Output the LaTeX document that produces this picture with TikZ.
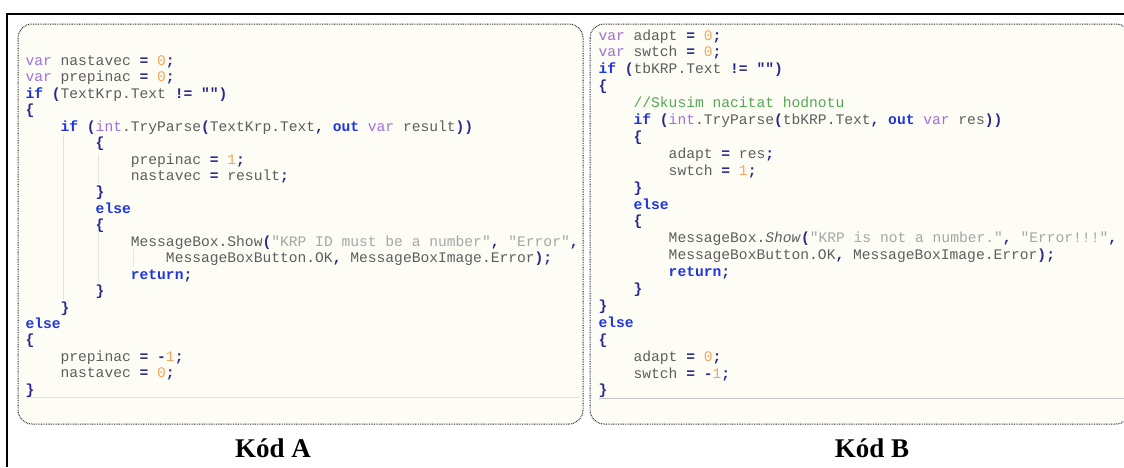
\documentclass[tikz,border=0pt]{standalone}
\usepackage{fontspec}
\setmainfont{Liberation Serif}
\setmonofont{Liberation Mono}
\usepackage{xcolor}
\definecolor{idgray}{HTML}{5E5E5E}
\definecolor{kwblue}{HTML}{2036DC}
\definecolor{opnavy}{HTML}{28288E}
\definecolor{typurple}{HTML}{A070DA}
\definecolor{numorange}{HTML}{F6A45E}
\definecolor{strgray}{HTML}{A6A6A6}
\definecolor{cmgreen}{HTML}{52A852}
\definecolor{panelfill}{HTML}{FDFDF6}
\definecolor{guide}{HTML}{E4E4DE}
% syntax colouring helpers
\newcommand\ckw[1]{\textcolor{kwblue}{\textbf{#1}}}
\newcommand\cty[1]{\textcolor{typurple}{#1}}
\newcommand\cop[1]{\textcolor{opnavy}{\textbf{#1}}}
\newcommand\cnum[1]{\textcolor{numorange}{#1}}
\newcommand\cstr[1]{\textcolor{strgray}{#1}}
\newcommand\ccom[1]{\textcolor{cmgreen}{#1}}
% one code line: number, indent (chars), text
\newcommand\lineA[3]{\node[codeline] (a#1) at ({25.5+8.78*#2},{65.3+16.45*(#1-1)}) {#3};}
\newcommand\lineB[3]{\node[codeline] (b#1) at ({598.5+8.78*#2},{40+16.9*(#1-1)}) {#3};}
\begin{document}
\begin{tikzpicture}[x=1pt,y=-1pt,
  codeline/.style={anchor=base west, inner sep=0pt, outer sep=0pt,
    font=\fontsize{14.63}{16}\selectfont\ttfamily\frenchspacing, text=idgray},
  panel/.style={draw=black!85, line width=1pt, dash pattern=on 0.8pt off 0.9pt,
    rounded corners=14pt, fill=panelfill},
  caption/.style={font=\fontsize{27}{30}\selectfont\bfseries, anchor=base, inner sep=0pt},
  guideline/.style={draw=guide, line width=0.8pt}]
\useasboundingbox (0,0) rectangle (1124,467);
\fill[white] (0,0) rectangle (1124,467);

% outer frame (top and left edges)
\draw[line width=2pt] (7,467) -- (7,14) -- (1140,14);

% code panels
\draw[panel] (18,24) rectangle (583,424);
\draw[panel] (590,24) rectangle (1130,424);

% indentation guides in panel A
\draw[guideline] (63,134) -- (63,300);
\draw[guideline] (98,154) -- (98,184);
\draw[guideline] (98,233) -- (98,284);
\draw[guideline] (133,249) -- (133,267);
\draw[guideline] (26,397) -- (580,397);
\draw[draw=black!22, line width=0.8pt] (599,398) -- (1130,398);

% code A
\lineA{1}{0}{\cty{var} nastavec \cop{=} \cnum{0}\cop{;}}
\lineA{2}{0}{\cty{var} prepinac \cop{=} \cnum{0}\cop{;}}
\lineA{3}{0}{\ckw{if} \cop{(}TextKrp.Text \cop{!=} \cop{""}\cop{)}}
\lineA{4}{0}{\cop{\{}}
\lineA{5}{4}{\ckw{if} \cop{(}\cty{int}.TryParse\cop{(}TextKrp.Text\cop{,} \ckw{out} \cty{var} result\cop{))}}
\lineA{6}{8}{\cop{\{}}
\lineA{7}{12}{prepinac \cop{=} \cnum{1}\cop{;}}
\lineA{8}{12}{nastavec \cop{=} result\cop{;}}
\lineA{9}{8}{\cop{\}}}
\lineA{10}{8}{\ckw{else}}
\lineA{11}{8}{\cop{\{}}
\lineA{12}{12}{MessageBox.Show\cop{(}\cstr{"KRP ID must be a number"}\cop{,} \cstr{"Error"}\cop{,}}
\lineA{13}{16}{MessageBoxButton.OK\cop{,} MessageBoxImage.Error\cop{);}}
\lineA{14}{12}{\ckw{return}\cop{;}}
\lineA{15}{8}{\cop{\}}}
\lineA{16}{4}{\cop{\}}}
\lineA{17}{0}{\ckw{else}}
\lineA{18}{0}{\cop{\{}}
\lineA{19}{4}{prepinac \cop{=} \cop{-}\cnum{1}\cop{;}}
\lineA{20}{4}{nastavec \cop{=} \cnum{0}\cop{;}}
\lineA{21}{0}{\cop{\}}}

% code B
\lineB{1}{0}{\cty{var} adapt \cop{=} \cnum{0}\cop{;}}
\lineB{2}{0}{\cty{var} swtch \cop{=} \cnum{0}\cop{;}}
\lineB{3}{0}{\ckw{if} \cop{(}tbKRP.Text \cop{!=} \cop{""}\cop{)}}
\lineB{4}{0}{\cop{\{}}
\lineB{5}{4}{\ccom{//Skusim nacitat hodnotu}}
\lineB{6}{4}{\ckw{if} \cop{(}\cty{int}.TryParse\cop{(}tbKRP.Text\cop{,} \ckw{out} \cty{var} res\cop{))}}
\lineB{7}{4}{\cop{\{}}
\lineB{8}{8}{adapt \cop{=} res\cop{;}}
\lineB{9}{8}{swtch \cop{=} \cnum{1}\cop{;}}
\lineB{10}{4}{\cop{\}}}
\lineB{11}{4}{\ckw{else}}
\lineB{12}{4}{\cop{\{}}
\lineB{13}{8}{MessageBox.\textit{Show}\cop{(}\cstr{"KRP is not a number."}\cop{,} \cstr{"Error!!!"}\cop{,}}
\lineB{14}{8}{MessageBoxButton.OK\cop{,} MessageBoxImage.Error\cop{);}}
\lineB{15}{8}{\ckw{return}\cop{;}}
\lineB{16}{4}{\cop{\}}}
\lineB{17}{0}{\cop{\}}}
\lineB{18}{0}{\ckw{else}}
\lineB{19}{0}{\cop{\{}}
\lineB{20}{4}{adapt \cop{=} \cnum{0}\cop{;}}
\lineB{21}{4}{swtch \cop{=} \cop{-}\cnum{1}\cop{;}}
\lineB{22}{0}{\cop{\}}}

% captions
\node[caption] (capA) at (273,457) {Kód A};
\node[caption] (capB) at (872,457) {Kód B};
\end{tikzpicture}
\end{document}
